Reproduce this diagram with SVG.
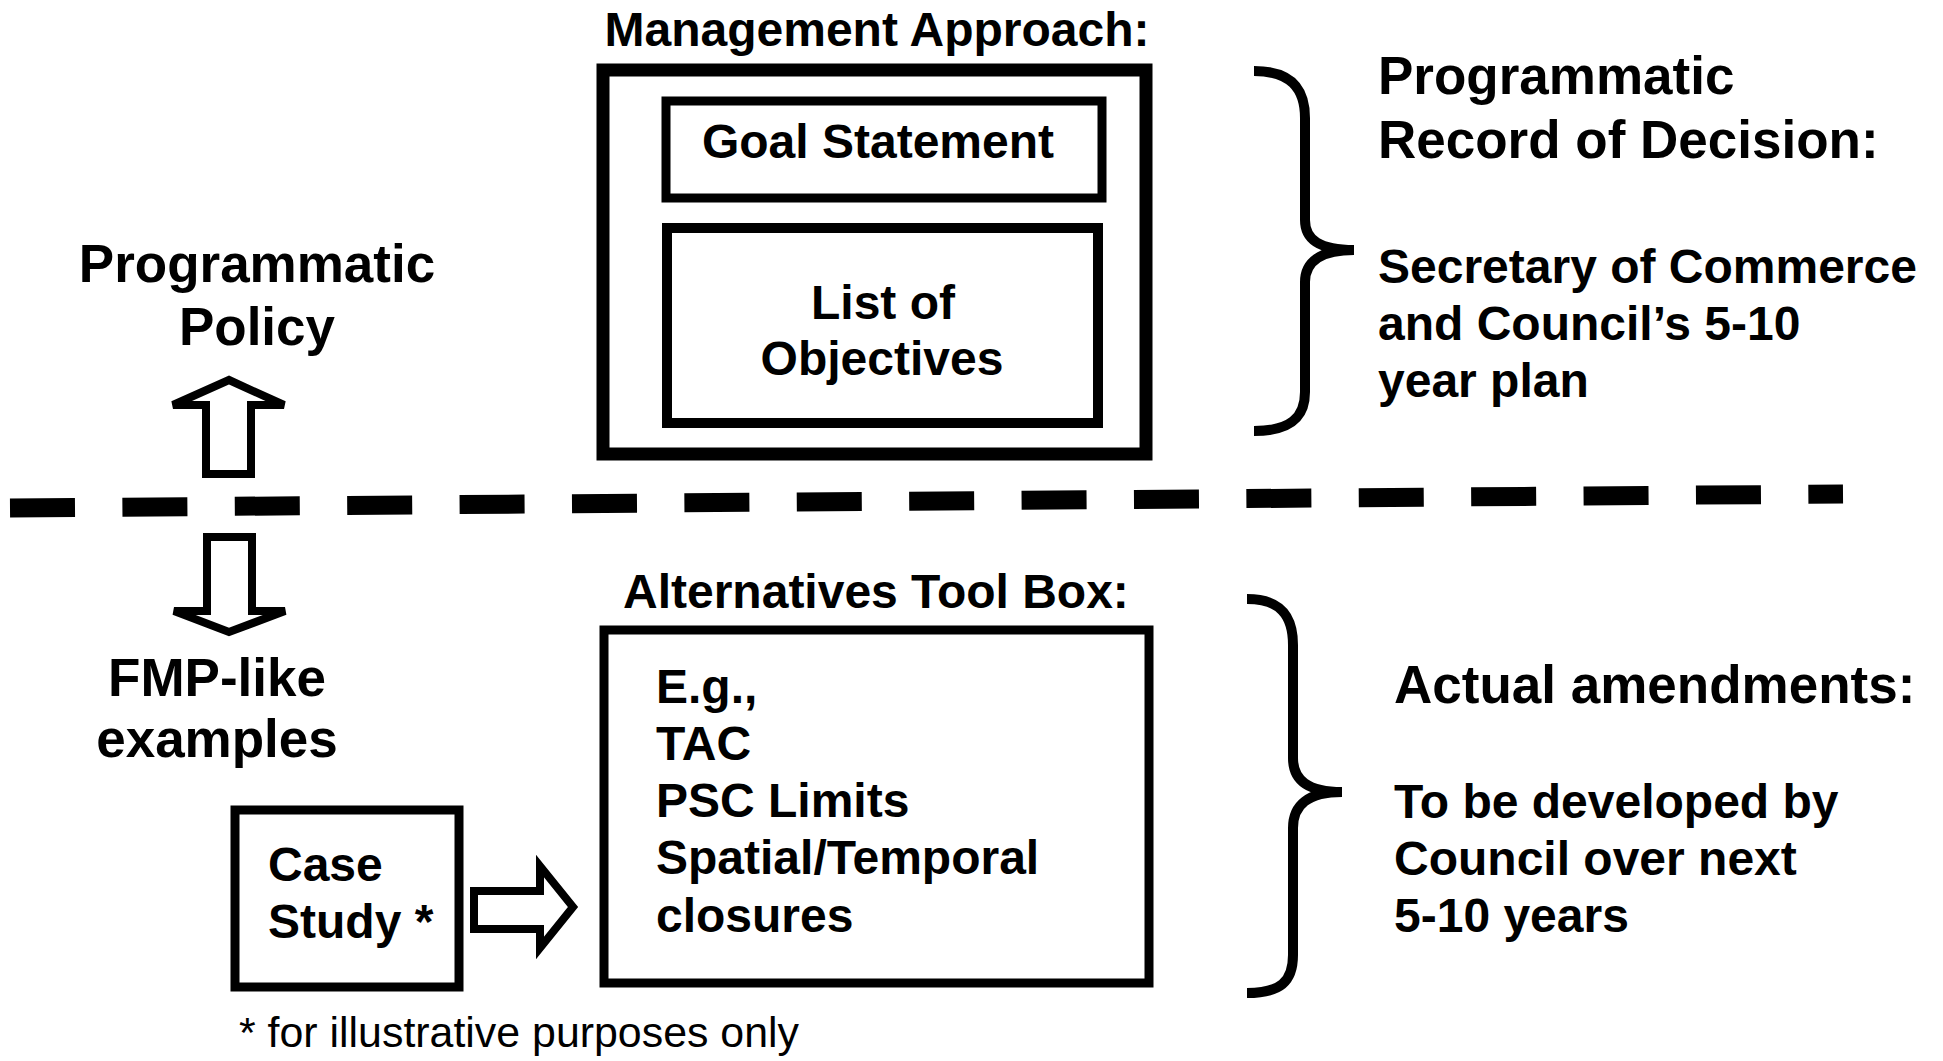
<svg xmlns="http://www.w3.org/2000/svg" width="1943" height="1061" viewBox="0 0 1943 1061">
  <style>
    .box { fill: none; stroke: #000; }
    .t { font-family: "Liberation Sans", Arial, Helvetica, sans-serif; font-weight: bold; fill: #000; }
    .big { font-size: 53px; }
    .mid { font-size: 48px; }
    .note { font-family: "Liberation Sans", Arial, Helvetica, sans-serif; font-size: 42px; fill: #000; }
    .hollow { fill: #fff; stroke: #000; stroke-width: 8; stroke-linejoin: miter; }
    .brace { fill: none; stroke: #000; stroke-width: 10; }
  </style>
  <rect width="1943" height="1061" fill="#fff"/>

  <!-- Management approach: outer frame with goal statement and objectives -->
  <g id="management-approach">
    <text class="t mid" x="877" y="46" text-anchor="middle">Management Approach:</text>
    <rect class="box" x="603" y="70" width="543" height="384" stroke-width="13"/>
  </g>
  <g id="goal-statement">
    <rect class="box" x="666" y="101" width="436" height="97" stroke-width="9"/>
    <text class="t mid" x="878" y="158" text-anchor="middle">Goal Statement</text>
  </g>
  <g id="list-of-objectives">
    <rect class="box" x="667" y="228" width="431" height="195" stroke-width="10"/>
    <text class="t mid" x="883" y="319" text-anchor="middle">List of</text>
    <text class="t mid" x="882" y="375" text-anchor="middle">Objectives</text>
  </g>

  <!-- Left column labels -->
  <g id="programmatic-policy">
    <text class="t big" x="257" y="282" text-anchor="middle">Programmatic</text>
    <text class="t big" x="257" y="345" text-anchor="middle">Policy</text>
  </g>
  <g id="fmp-like-examples">
    <text class="t big" x="217" y="696" text-anchor="middle">FMP-like</text>
    <text class="t big" x="217" y="757" text-anchor="middle">examples</text>
  </g>

  <!-- Right column: programmatic record of decision -->
  <g id="record-of-decision">
    <text class="t big" x="1378" y="94">Programmatic</text>
    <text class="t big" x="1378" y="158">Record of Decision:</text>
    <text class="t mid" x="1378" y="283">Secretary of Commerce</text>
    <text class="t mid" x="1378" y="340">and Council’s 5-10</text>
    <text class="t mid" x="1378" y="397">year plan</text>
  </g>

  <!-- Alternatives tool box -->
  <g id="alternatives-tool-box">
    <text class="t mid" x="623" y="608">Alternatives Tool Box:</text>
    <rect class="box" x="604" y="630" width="545" height="353" stroke-width="9"/>
    <text class="t mid" x="656" y="703">E.g.,</text>
    <text class="t mid" x="656" y="760">TAC</text>
    <text class="t mid" x="656" y="817">PSC Limits</text>
    <text class="t mid" x="656" y="874">Spatial/Temporal</text>
    <text class="t mid" x="656" y="932">closures</text>
  </g>

  <!-- Case study -->
  <g id="case-study">
    <rect class="box" x="235" y="810" width="224" height="177" stroke-width="9"/>
    <text class="t mid" x="268" y="881">Case</text>
    <text class="t mid" x="268" y="938">Study *</text>
  </g>

  <!-- Right column: actual amendments -->
  <g id="actual-amendments">
    <text class="t big" x="1394" y="703">Actual amendments:</text>
    <text class="t mid" x="1394" y="818">To be developed by</text>
    <text class="t mid" x="1394" y="875">Council over next</text>
    <text class="t mid" x="1394" y="932">5-10 years</text>
  </g>

  <text id="footnote" class="note" x="239" y="1047" textLength="560" lengthAdjust="spacingAndGlyphs">* for illustrative purposes only</text>

  <!-- Connectors: block arrows, braces and the dividing line -->
  <g id="connectors">
    <line x1="10" y1="508" x2="1843" y2="494" stroke="#000" stroke-width="19" stroke-dasharray="65 47.4"/>
    <!-- up to programmatic policy -->
    <polygon class="hollow" points="229,380 284,405 251,405 251,474 206,474 206,405 173,405"/>
    <!-- down to FMP-like examples -->
    <polygon class="hollow" points="207,537 252,537 252,611 285,611 229,632 174,611 207,611"/>
    <!-- case study into tool box -->
    <polygon class="hollow" points="474,891 540,891 540,866 573,907 540,948 540,929 474,929"/>
    <path class="brace" d="M1254,71 C1290,71 1305,88 1305,118 L1305,220 C1305,240 1320,250 1354,250 C1320,250 1305,262 1305,282 L1305,392 C1305,418 1290,431 1254,431"/>
    <path class="brace" d="M1247,599 C1280,599 1293,615 1293,645 L1293,758 C1293,780 1308,792 1342,792 C1308,792 1293,805 1293,828 L1293,955 C1293,982 1280,993 1247,993"/>
  </g>
</svg>
